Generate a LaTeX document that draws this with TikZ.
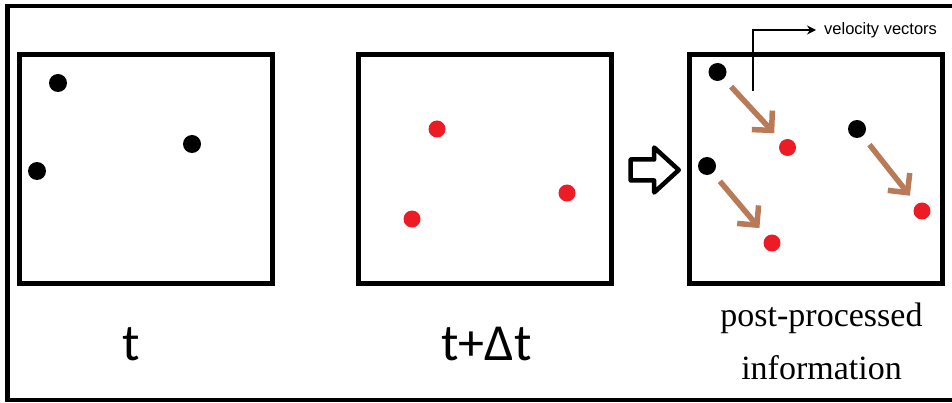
\documentclass[tikz,border=0pt]{standalone}
\usepackage{fontspec}
\newfontfamily\calfont{Carlito}
\newfontfamily\serfont{Liberation Serif}
\newfontfamily\arifont{Liberation Sans}
\usetikzlibrary{arrows.meta, positioning, shapes.arrows}
\definecolor{paintred}{RGB}{237,28,36}
\definecolor{paintbrown}{RGB}{185,122,87}

\begin{document}
\begin{tikzpicture}[x=1pt, y=-1pt,
    panel/.style={draw, line width=5pt, minimum width=253pt, minimum height=229pt, outer sep=0pt},
    oldpos/.style={circle, fill=black, minimum size=18pt, inner sep=0pt, outer sep=0pt},
    newpos/.style={oldpos, fill=paintred, minimum size=17pt},
    vel/.style={-{Straight Barb[length=14pt, width=28pt]}, line width=5.5pt, paintbrown, shorten <=11pt, shorten >=11pt},
    timelbl/.style={font=\calfont\fontsize{52}{60}\selectfont, inner sep=0pt},
    caplbl/.style={font=\serfont\fontsize{34}{53}\selectfont, align=center, inner sep=0pt},
    notelbl/.style={font=\arifont\fontsize{16.5}{19}\selectfont, inner sep=0pt}
  ]
    \useasboundingbox (0,0) rectangle (952,403);
    \draw[line width=4.5pt] (7.5,6) rectangle (990,400);

    \node[panel] (box1) at (145.5,169) {};
    \node[panel, right=86pt of box1] (box2) {};
    \node[panel, right=78pt of box2] (box3) {};

    % positions at t
    \node[oldpos] (a1) at (58,83) {};
    \node[oldpos] (a2) at (192,144) {};
    \node[oldpos] (a3) at (37,171) {};

    % positions at t+dt
    \node[newpos] (b1) at (437,129) {};
    \node[newpos] (b2) at (567,193) {};
    \node[newpos] (b3) at (412,219) {};

    \node[single arrow, draw, line width=4.5pt, line join=round, minimum width=41pt, minimum height=48pt,
      inner sep=8.25pt, single arrow head extend=12pt, single arrow tip angle=85] (flow) at (649,170) {};

    % both, with vectors
    \node[oldpos] (c1) at (717.5,72) {};
    \node[oldpos] (c2) at (857,129) {};
    \node[oldpos] (c3) at (707,166) {};
    \node[newpos] (d1) at (787.5,147.5) {};
    \node[newpos] (d2) at (922,211) {};
    \node[newpos] (d3) at (772,243) {};
    \draw[vel] (c1) -- (d1);
    \draw[vel] (c2) -- (d2);
    \draw[vel] (c3) -- (d3);

    \node[notelbl, anchor=west] (vvlbl) at (824,30) {velocity vectors};
    \coordinate (vvtail) at (753,91);
    \draw[-{Stealth[length=9pt, width=9pt]}, line width=1.8pt, shorten >=8pt] (vvtail) |- (vvlbl.west);

    \node[timelbl, below=77pt of box1.south, anchor=base, xshift=-14pt] (tlbl) {t};
    \node[timelbl, below=77pt of box2.south, anchor=base, xshift=2pt] (tdlbl) {t+Δt};
    \node[caplbl, below=96pt of box3.south, anchor=base, xshift=6pt] (pplbl) {post-processed\\information};
  \end{tikzpicture}
\end{document}
